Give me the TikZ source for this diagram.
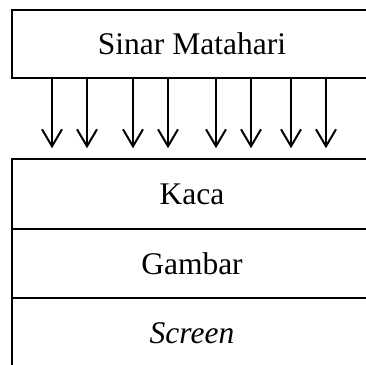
\documentclass[tikz,border=0pt]{standalone}
\usepackage{fontspec}
\setmainfont{Liberation Serif}
\usetikzlibrary{arrows.meta,positioning}
\tikzset{
  layer/.style={draw,line width=1pt,minimum width=180pt,minimum height=34.75pt,
    inner sep=0pt,outer sep=0pt,font=\fontsize{15.75}{18}\selectfont},
  ray/.style={line width=1pt,-{Straight Barb[length=8.5pt,width=10pt]}}
}
\begin{document}
\begin{tikzpicture}[x=0.5pt,y=-0.5pt]
  \useasboundingbox (0,0) rectangle (366,365);
  \clip (0,0) rectangle (366,365);
  % sun and the layers below it
  \node[layer,minimum height=34pt] (sun) at (192,44) {Sinar Matahari};
  \node[layer] (kaca) at (192,194) {Kaca};
  \node[layer,below=0pt of kaca] (gambar) {Gambar};
  \node[layer,below=0pt of gambar] (screen) {\textit{Screen}};
  % light rays
  \foreach \x [count=\i] in {52,87,133,168,216,251,291,326} {
    \coordinate (r\i) at (\x,0);
    \draw[ray,shorten >=5.5pt] (sun.south -| r\i) -- (kaca.north -| r\i);
  }
\end{tikzpicture}
\end{document}
